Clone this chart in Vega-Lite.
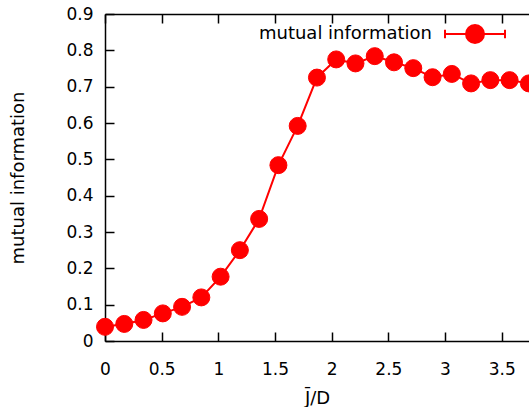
{
  "$schema": "https://vega.github.io/schema/vega-lite/v6.json",
  "width": 424,
  "height": 327,
  "autosize": {"type": "none"},
  "padding": {"left": 105, "top": 14, "right": 0, "bottom": 66},
  "background": "white",
  "view": {"stroke": null},
  "config": {
    "font": "DejaVu Sans",
    "axis": {
      "grid": false,
      "domainColor": "black",
      "domainWidth": 1.5,
      "tickColor": "black",
      "tickWidth": 1.5,
      "tickSize": -9,
      "labelFont": "DejaVu Sans",
      "labelFontSize": 17,
      "labelColor": "black",
      "labelFlush": false,
      "labelOverlap": false,
      "titleFont": "DejaVu Sans",
      "titleFontSize": 18,
      "titleFontWeight": "normal",
      "titleColor": "black"
    }
  },
  "data": {
    "values": [
      {"jd": 0.0, "mi": 0.039},
      {"jd": 0.17, "mi": 0.047},
      {"jd": 0.34, "mi": 0.058},
      {"jd": 0.51, "mi": 0.076},
      {"jd": 0.68, "mi": 0.094},
      {"jd": 0.85, "mi": 0.12},
      {"jd": 1.02, "mi": 0.177},
      {"jd": 1.19, "mi": 0.25},
      {"jd": 1.36, "mi": 0.336},
      {"jd": 1.53, "mi": 0.484},
      {"jd": 1.7, "mi": 0.592},
      {"jd": 1.87, "mi": 0.725},
      {"jd": 2.04, "mi": 0.775},
      {"jd": 2.21, "mi": 0.764},
      {"jd": 2.38, "mi": 0.784},
      {"jd": 2.55, "mi": 0.767},
      {"jd": 2.72, "mi": 0.751},
      {"jd": 2.89, "mi": 0.726},
      {"jd": 3.06, "mi": 0.735},
      {"jd": 3.23, "mi": 0.709},
      {"jd": 3.4, "mi": 0.718},
      {"jd": 3.57, "mi": 0.718},
      {"jd": 3.74, "mi": 0.709}
    ]
  },
  "layer": [
    {
      "mark": {"type": "line", "color": "red", "strokeWidth": 2},
      "encoding": {
        "x": {
          "field": "jd", "type": "quantitative",
          "scale": {"domain": [0, 3.741], "nice": false, "zero": false},
          "axis": {
            "orient": "bottom",
            "values": [0, 0.5, 1, 1.5, 2, 2.5, 3, 3.5],
            "format": "~g",
            "labelPadding": 29,
            "title": "J̄/D",
            "titlePadding": 12
          }
        },
        "y": {
          "field": "mi", "type": "quantitative",
          "scale": {"domain": [0, 0.9], "nice": false},
          "axis": {
            "orient": "left",
            "values": [0, 0.1, 0.2, 0.3, 0.4, 0.5, 0.6, 0.7, 0.8, 0.9],
            "format": "~g",
            "labelPadding": 21,
            "title": "mutual information",
            "titlePadding": 38
          }
        }
      }
    },
    {
      "mark": {"type": "point", "filled": true, "opacity": 1, "shape": "circle", "size": 289, "stroke": "red", "strokeWidth": 1},
      "encoding": {
        "x": {
          "field": "jd", "type": "quantitative",
          "scale": {"domain": [0, 3.741], "nice": false, "zero": false},
          "axis": {
            "orient": "top",
            "values": [0, 0.5, 1, 1.5, 2, 2.5, 3, 3.5],
            "labels": false,
            "title": null
          }
        },
        "y": {
          "field": "mi", "type": "quantitative",
          "scale": {"domain": [0, 0.9], "nice": false},
          "axis": null
        },
        "color": {
          "datum": "mutual information",
          "type": "nominal",
          "scale": {"range": ["red"]},
          "legend": {
            "title": null,
            "orient": "none",
            "legendX": 339,
            "legendY": -11,
            "padding": 0,
            "symbolType": "M-1,0H1M-1,-0.14V0.14M1,-0.14V0.14M0.3,0A0.3,0.3,0,1,1,-0.3,0A0.3,0.3,0,1,1,0.3,0Z",
            "symbolSize": 3600,
            "symbolStrokeWidth": 2,
            "symbolStrokeColor": "red",
            "symbolFillColor": "red",
            "labelAlign": "right",
            "labelOffset": -74,
            "labelLimit": 400,
            "labelFont": "DejaVu Sans",
            "labelFontSize": 18,
            "labelColor": "black",
            "encode": {
              "symbols": {
                "update": {
                  "fill": {"value": "red"},
                  "stroke": {"value": "red"},
                  "strokeWidth": {"value": 2},
                  "opacity": {"value": 1}
                }
              }
            }
          }
        }
      }
    }
  ],
  "resolve": {"axis": {"x": "independent", "y": "independent"}}
}
